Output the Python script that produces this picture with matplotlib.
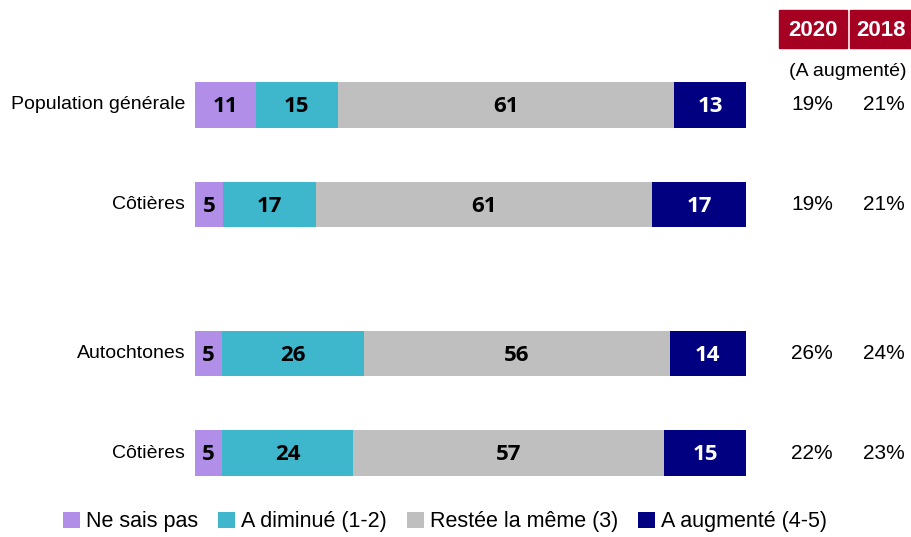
import matplotlib.pyplot as plt
import numpy as np
from matplotlib.patches import Rectangle

categories = ["Population générale", "Côtières", "Autochtones", "Côtières"]
ne_sais_pas = [11, 5, 5, 5]
diminue = [15, 17, 26, 24]
meme = [61, 61, 56, 57]
augmente = [13, 17, 14, 15]
pct_2020 = ["19%", "19%", "26%", "22%"]
pct_2018 = ["21%", "21%", "24%", "23%"]
series_names = ["Ne sais pas", "A diminué (1-2)", "Restée la même (3)", "A augmenté (4-5)"]
colors = ["#B18FE8", "#3EB6CC", "#BFBFBF", "#000080"]
years = ["2020", "2018"]

plt.rcParams["font.family"] = ["Liberation Sans", "DejaVu Sans"]

fig = plt.figure(figsize=(9.12, 5.37), dpi=100)
W, H = 912, 537

# bars axes: x 195..746 px, y 60..480 px
ax = fig.add_axes([195 / W, 1 - 480 / H, 551 / W, 420 / H])
ypos = np.array([0, 1, 2.5, 3.5])
ax.set_xlim(0, 100)
ax.set_ylim(3.5 + 27 / 99.43, -45 / 99.43)
ax.axis("off")

data = np.array([ne_sais_pas, diminue, meme, augmente], dtype=float)
totals = data.sum(axis=0)  # rows are rounded; the bars fill 100%
left = np.zeros(4)
for vals, col, name in zip(data, colors, series_names):
    widths = vals / totals * 100
    ax.barh(ypos, widths, left=left, height=0.46, color=col, label=name)
    for y, l, w, v in zip(ypos, left, widths, vals):
        tc = "white" if col == "#000080" else "black"
        ax.text(l + w / 2, y + 0.02, str(int(v)), ha="center", va="center", fontsize=16,
                fontweight="bold", color=tc, family=["Open Sans", "DejaVu Sans"])
    left += widths

for y, c in zip(ypos, categories):
    ax.text(-1.8, y, c, ha="right", va="center", fontsize=14)

# right-hand columns
for y, a, b in zip(ypos, pct_2020, pct_2018):
    yy = 1 - (y * 99.43 + 105) / H
    fig.text(812 / W, yy, a, ha="center", va="center", fontsize=15)
    fig.text(884 / W, yy, b, ha="center", va="center", fontsize=15)

for x0, x1, yr in [(779, 847, years[0]), (850, 912, years[1])]:
    fig.patches.append(Rectangle((x0 / W, 1 - 48 / H), (x1 - x0) / W, 38 / H,
                                 transform=fig.transFigure, color="#A50021"))
    fig.text((x0 + x1) / 2 / W, 1 - 30 / H, yr, ha="center", va="center", color="white",
             fontsize=16, fontweight="bold")
fig.text(848 / W, 1 - 72 / H, "(A augmenté)", ha="center", va="center", fontsize=14)

handles, labels = ax.get_legend_handles_labels()
fig.legend(handles, labels, loc="center", bbox_to_anchor=(445 / W, 1 - 522 / H), ncol=4,
           frameon=False, fontsize=15.5, handlelength=0.8, handleheight=0.8,
           handletextpad=0.3, columnspacing=0.9, borderaxespad=0)

fig.savefig("out.png", dpi=100)
